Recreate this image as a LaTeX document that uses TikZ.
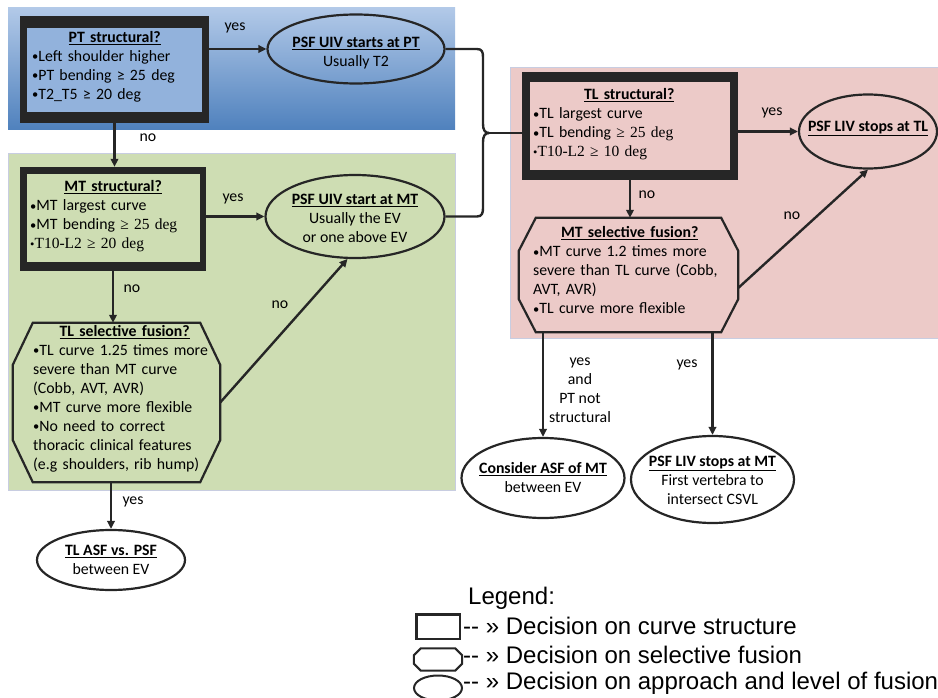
\documentclass[tikz,border=0pt]{standalone}
\usepackage{fontspec}
\setmainfont{Carlito}
\newfontfamily\tnr{Liberation Serif}
\newfontfamily\arialf{Liberation Sans}
\usetikzlibrary{arrows.meta,shapes.geometric,calc}

\definecolor{framec}{RGB}{38,38,38}
\definecolor{bluetop}{RGB}{178,201,232}
\definecolor{bluebot}{RGB}{79,129,189}
\definecolor{blueinner}{RGB}{146,178,220}
\definecolor{greenbg}{RGB}{206,221,179}
\definecolor{pinkbg}{RGB}{236,202,200}
\definecolor{regionedge}{RGB}{200,205,225}

\newcommand{\ttl}[1]{\underline{\textbf{#1}}}
\newcommand{\bul}{\raisebox{0.8pt}{\fontsize{12.5}{12.5}\selectfont\textbullet}}
\newcommand{\tms}{\tnr\fontsize{15.5}{19}\selectfont}
% chamfered outline around a rectangular node: node, corner dx, corner dy
\newcommand{\octpath}[4][]{%
  \draw[octline,#1] ($(#2.north west)+(#3,0)$) -- ($(#2.north east)+(-#3,0)$)
    -- ($(#2.north east)+(0,#4)$) -- ($(#2.south east)+(0,-#4)$)
    -- ($(#2.south east)+(-#3,0)$) -- ($(#2.south west)+(#3,0)$)
    -- ($(#2.south west)+(0,-#4)$) -- ($(#2.north west)+(0,#4)$) -- cycle;}

\begin{document}
\begin{tikzpicture}[x=1pt,y=-1pt,
  txt/.style={font=\fontsize{15.8}{19}\selectfont, inner sep=0},
  frame/.style={fill=framec, inner sep=0},
  inbox/.style={inner sep=0},
  boxtext/.style={txt, align=left, anchor=west},
  shapebox/.style={inner sep=0},
  octline/.style={draw=framec, line width=2.2},
  oval/.style={ellipse, draw=framec, line width=2.2, inner sep=0},
  conn/.style={draw=framec, line width=2.4, -{Triangle[length=8pt,width=7.5pt]}},
  brace/.style={draw=framec, line width=2.4},
  lab/.style={txt, align=center},
  legtext/.style={font=\arialf\fontsize{24}{24}\selectfont, anchor=west, inner sep=0}
]
\useasboundingbox (0,0) rectangle (938,698);

% coloured panels
\shade[top color=bluetop, bottom color=bluebot] (8,8) rectangle (455,130);
\filldraw[fill=greenbg, draw=regionedge, line width=0.8] (8,153) rectangle (455,490);
\filldraw[fill=pinkbg, draw=regionedge, line width=0.8] (510,67) rectangle (945,338);

% ---- structure decisions (thick frames)
\node[frame, minimum width=189, minimum height=107] (pt) at (114.5,69.5) {};
\node[inbox, fill=blueinner, minimum width=175, minimum height=84] (ptin) at (114.5,70) {};
\node[boxtext, text width=165] (ptt) at (32,67) {%
  \makebox[\hsize]{\ttl{PT structural?}}\\
  \bul Left shoulder higher\\
  \bul PT bending ≥ 25 deg\\
  \bul T2\_T5 ≥ 20 deg};

\node[frame, minimum width=186, minimum height=104] (mt) at (113,219) {};
\node[inbox, fill=greenbg, minimum width=173, minimum height=88] (mtin) at (113.5,218) {};
\node[boxtext, text width=166] (mtt) at (30,216.5) {%
  \makebox[\hsize]{\ttl{MT structural?}}\\
  \bul MT largest curve\\
  \bul MT bending {\tms ≥ 25 deg}\\
  {\tms\bul T10-L2 ≥ 20 deg}};

\node[frame, minimum width=216, minimum height=108] (tl) at (630,126) {};
\node[inbox, fill=pinkbg, minimum width=200, minimum height=88] (tlin) at (630,126) {};
\node[boxtext, text width=192] (tlt) at (533,124.5) {%
  \makebox[\hsize]{\ttl{TL structural?}}\\
  \bul TL largest curve\\
  \bul TL bending {\tms ≥ 25 deg}\\
  {\tms\bul T10-L2 ≥ 10 deg}};

% ---- selective fusion decisions (chamfered boxes)
\node[shapebox, minimum width=207, minimum height=159] (tlsel) at (116.5,402.5) {};
\octpath{tlsel}{20}{42}
\node[boxtext, text width=183] (tlselt) at (33,399) {%
  \makebox[\hsize]{\ttl{TL selective fusion?}}\\
  \bul TL curve 1.25 times more\\
  severe than MT curve\\
  (Cobb, AVT, AVR)\\
  \bul MT curve more flexible\\
  \bul No need to correct\\
  thoracic clinical features\\
  (e.g shoulders, rib hump)};

\node[shapebox, minimum width=219, minimum height=114] (mtsel) at (628.5,275) {};
\octpath{mtsel}{17}{33}
\node[boxtext, text width=193] (mtselt) at (533,270.5) {%
  \makebox[\hsize]{\ttl{MT selective fusion?}}\\
  \bul MT curve 1.2 times more\\
  severe than TL curve (Cobb,\\
  AVT, AVR)\\
  \bul TL curve more flexible};

% ---- approach / level decisions (ellipses)
\node[oval, minimum width=177, minimum height=69] (ptuiv) at (356,49) {};
\node[lab] (ptuivt) at ($(ptuiv)+(0,4)$) {\ttl{PSF UIV starts at PT}\\Usually T2};

\node[oval, minimum width=179, minimum height=83] (mtuiv) at (355,216.5) {};
\node[lab] (mtuivt) at ($(mtuiv)+(0,2)$) {\ttl{PSF UIV start at MT}\\Usually the EV\\or one above EV};

\node[oval, minimum width=138, minimum height=74] (tlliv) at (868,131.5) {};
\node[lab] (tllivt) at ($(tlliv)+(0,-3)$) {\ttl{PSF LIV stops at TL}};

\node[oval, minimum width=148, minimum height=60] (tlasf) at (111,560) {};
\node[lab] (tlasft) at (tlasf) {\ttl{TL ASF vs. PSF}\\between EV};

\node[oval, minimum width=163, minimum height=80] (mtasf) at (543,478) {};
\node[lab] (mtasft) at (mtasf) {\ttl{Consider ASF of MT}\\between EV};

\node[oval, minimum width=163, minimum height=87] (mtliv) at (712.5,479.5) {};
\node[lab] (mtlivt) at ($(mtliv)+(0,1)$) {\ttl{PSF LIV stops at MT}\\First vertebra to\\intersect CSVL};

% ---- connectors
\draw[conn] (pt.east |- ptuiv.west) -- (ptuiv.west);
\draw[conn] (pt.south) -- (pt.south |- mt.north);
\draw[conn] (mt.east |- mtuiv.west) -- (mtuiv.west);
\draw[conn] (mt.south) -- (mt.south |- tlsel.north);
\draw[conn] (tlsel.east) -- (mtuiv.260);
\draw[conn] (tlasf.north |- tlsel.south) -- (tlasf.north);
\draw[conn] (tl.east |- tlliv.west) -- (tlliv.west);
\draw[conn] (tl.south) -- (tl.south |- mtsel.north);
\draw[conn] ($(mtsel.east)+(0,13)$) -- (tlliv.south);
\draw[conn] (mtasf.north |- mtsel.south) -- (mtasf.north);
\draw[conn] (mtliv.north |- mtsel.south) -- (mtliv.north);

% brace joining both upper-end choices into the TL decision
\coordinate (tip) at (489,133);
\draw[brace] (ptuiv.east) -- (477,49) .. controls (482,49) and (483,52) .. (483,57)
  -- (483,124) .. controls (483,130) and (485,133) .. (tip);
\draw[brace] (mtuiv.east) -- (477,216.5) .. controls (482,216.5) and (483,213) .. (483,208)
  -- (483,142) .. controls (483,136) and (485,133) .. (tip);
\draw[brace] (tip) -- (tl.west |- tip);

% ---- connector labels
\node[lab] (lyes1) at (235,28) {yes};
\node[lab] (lno1) at (148,138) {no};
\node[lab] (lyes2) at (233,199) {yes};
\node[lab] (lno2) at (132,289) {no};
\node[lab] (lno3) at (280,305) {no};
\node[lab] (lyes3) at (133,502) {yes};
\node[lab] (lyes4) at (772,113) {yes};
\node[lab] (lno4) at (647,195) {no};
\node[lab] (lno5) at (792,216) {no};
\node[lab] (lyes5) at (580,390) {yes\\and\\PT not\\structural};
\node[lab] (lyes6) at (687,365) {yes};

% ---- legend
\node[legtext] (legtitle) at (468,598) {Legend:};
\node[draw=framec, line width=2.5, minimum width=43.5, minimum height=24.5, inner sep=0] (legrect) at (438,626.5) {};
\node[shapebox, minimum width=48, minimum height=22] (legoct) at (438,659.5) {};
\octpath[line width=2]{legoct}{7}{7}
\node[oval, line width=2, minimum width=48, minimum height=25] (legell) at (438,688) {};
\node[legtext] (legt1) at (463,626) {-{}- » Decision on curve structure};
\node[legtext] (legt2) at (463,655) {-{}- » Decision on selective fusion};
\node[legtext] (legt3) at (463,683) {-{}- » Decision on approach and level of fusion};
\end{tikzpicture}
\end{document}
